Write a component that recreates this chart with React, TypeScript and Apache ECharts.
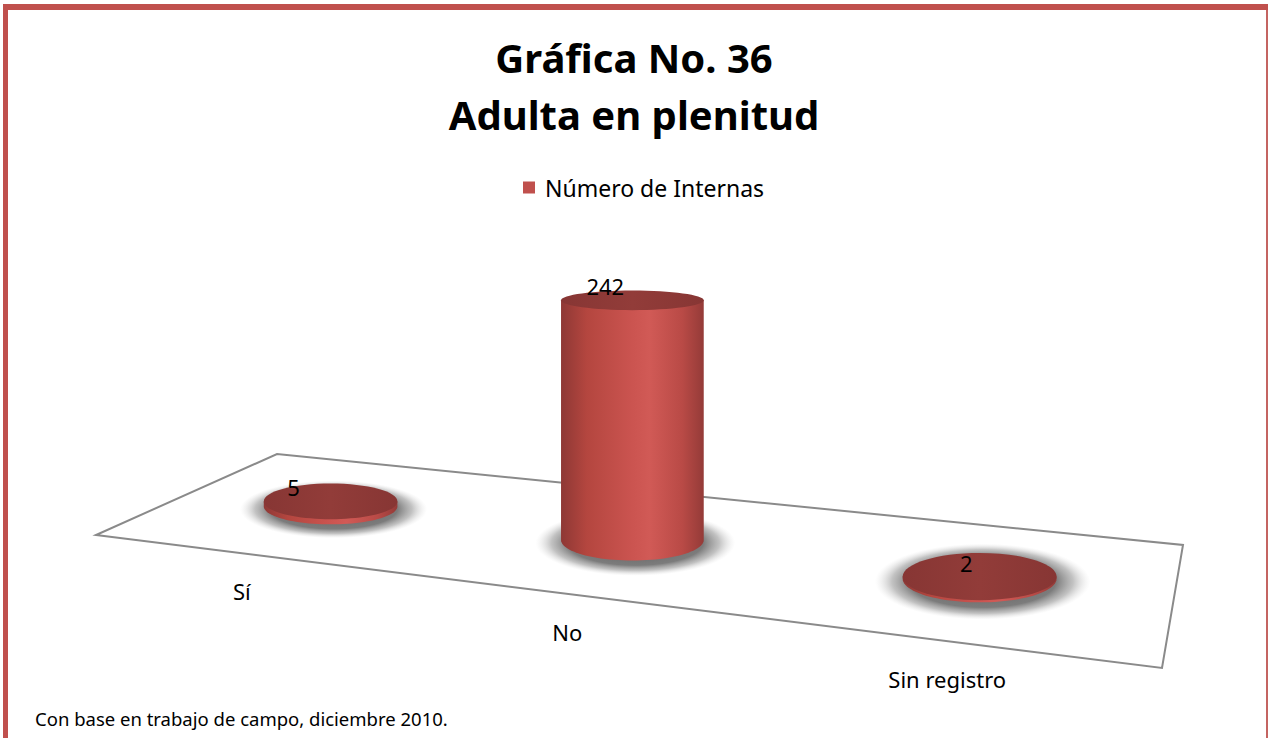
import React, { useEffect, useRef } from "react";
import * as echarts from "echarts";

const categories = ["Sí", "No", "Sin registro"];
const values = [5, 242, 2];
const seriesName = "Número de Internas";
const titleLines = ["Gráfica No. 36", "Adulta en plenitud"];
const sourceNote = "Con base en trabajo de campo, diciembre 2010.";

const RED = "#C0504D";
const FONT = "'Noto Sans', 'Open Sans', sans-serif";

// floor quadrilateral (front-left, front-right, back-right, back-left)
const FL: [number, number] = [96, 535];
const FR: [number, number] = [1162, 668];
const BR: [number, number] = [1183, 545];
const BL: [number, number] = [277, 454];

function makeHomography(p0: number[], p1: number[], p2: number[], p3: number[]) {
  const [x0, y0] = p0, [x1, y1] = p1, [x2, y2] = p2, [x3, y3] = p3;
  const dx1 = x1 - x2, dx2 = x3 - x2, dx3 = x0 - x1 + x2 - x3;
  const dy1 = y1 - y2, dy2 = y3 - y2, dy3 = y0 - y1 + y2 - y3;
  const den = dx1 * dy2 - dx2 * dy1;
  const g = (dx3 * dy2 - dx2 * dy3) / den;
  const h = (dx1 * dy3 - dx3 * dy1) / den;
  const a = x1 - x0 + g * x1, b = x3 - x0 + h * x3, c = x0;
  const d = y1 - y0 + g * y1, e = y3 - y0 + h * y3, f = y0;
  return (u: number, v: number): [number, number] => {
    const w = g * u + h * v + 1;
    return [(a * u + b * v + c) / w, (d * u + e * v + f) / w];
  };
}
const project = makeHomography(FL, FR, BR, BL);

const RU = 0.074; // cylinder radius in floor units (width)
const RV = 0.21; // cylinder radius in floor units (depth)
const HORIZON = 80;

export default function App() {
  const ref = useRef<HTMLDivElement>(null);
  useEffect(() => {
    if (!ref.current) return;
    const chart = echarts.init(ref.current, undefined, { renderer: "svg" });

    const renderItem = (params: any, api: any) => {
      const idx = api.value(0);
      const val = api.value(1);
      const cs = params.coordSys;
      const base = api.coord([idx, 0]);
      const top = api.coord([idx, val]);
      const u = (base[0] - cs.x) / cs.width;
      const hPx = base[1] - top[1];
      const v0 = 0.5;
      const [bx, by] = project(u, v0);
      const rxP = (project(u + RU, v0)[0] - project(u - RU, v0)[0]) / 2;
      const rx = 0.5 * rxP + 35.5;
      const ry = (project(u, v0 - RV)[1] - project(u, v0 + RV)[1]) / 2;
      const topY = by - hPx;
      const ryTop = (ry * (topY - HORIZON)) / (by - HORIZON);

      const side: number[][] = [[bx - rx, topY], [bx - rx, by]];
      const N = 48;
      for (let k = 0; k <= N; k++) {
        const t = Math.PI - (Math.PI * k) / N;
        side.push([bx + rx * Math.cos(t), by + ry * Math.sin(t)]);
      }
      side.push([bx + rx, topY]);

      const shadowFill = new echarts.graphic.RadialGradient(0.5, 0.5, 0.5, [
        { offset: 0, color: "rgba(60,60,60,0.85)" },
        { offset: 0.68, color: "rgba(80,80,80,0.75)" },
        { offset: 0.84, color: "rgba(120,120,120,0.45)" },
        { offset: 1, color: "rgba(200,200,200,0)" },
      ]);
      const sideFill = new echarts.graphic.LinearGradient(0, 0, 1, 0, [
        { offset: 0, color: "#8E3835" },
        { offset: 0.18, color: "#B4463F" },
        { offset: 0.5, color: "#CB5450" },
        { offset: 0.62, color: "#D15A56" },
        { offset: 0.85, color: "#B94A46" },
        { offset: 1, color: "#943B38" },
      ]);
      const topFill = new echarts.graphic.LinearGradient(0, 0, 1, 0, [
        { offset: 0, color: "#873634" },
        { offset: 0.5, color: "#923C39" },
        { offset: 1, color: "#873634" },
      ]);

      const lx = project(u, 0.28)[0];
      const front = project(u, 0);

      return {
        type: "group",
        children: [
          {
            type: "ellipse",
            shape: { cx: bx + 3, cy: by + 3, rx: rx * 1.4, ry: ry * 1.6 },
            style: { fill: shadowFill },
          },
          { type: "polygon", shape: { points: side }, style: { fill: sideFill } },
          {
            type: "ellipse",
            shape: { cx: bx, cy: topY, rx, ry: ryTop },
            style: { fill: topFill },
          },
          {
            type: "text",
            x: lx,
            y: topY - 14,
            style: {
              text: String(val),
              fontSize: 22,
              fontFamily: FONT,
              fill: "#000",
              align: "center",
              verticalAlign: "middle",
            },
          },
          {
            type: "text",
            x: front[0],
            y: front[1] + 38,
            style: {
              text: categories[idx],
              fontSize: 22,
              fontFamily: FONT,
              fill: "#000",
              align: "center",
              verticalAlign: "middle",
            },
          },
        ],
      };
    };

    chart.setOption({
      animation: false,
      backgroundColor: "#fff",
      title: {
        text: titleLines.join("\n"),
        left: "center",
        top: 24,
        textStyle: {
          fontSize: 40,
          fontWeight: "bold",
          fontFamily: FONT,
          color: "#000",
          lineHeight: 57,
        },
      },
      legend: {
        data: [seriesName],
        top: 176,
        left: 523,
        padding: 0,
        icon: "rect",
        itemWidth: 12,
        itemHeight: 12,
        textStyle: { fontSize: 23, fontFamily: FONT, color: "#000", padding: [0, 0, 0, 5] },
      },
      grid: { left: 100, width: 900, top: 200, height: 247.5 },
      xAxis: { type: "category", data: categories, show: false },
      yAxis: { type: "value", min: 0, max: 250, show: false },
      graphic: [
        { type: "rect", shape: { x: 3, y: 4, width: 1265, height: 6 }, style: { fill: RED }, z: 0 },
        { type: "rect", shape: { x: 3, y: 4, width: 5, height: 734 }, style: { fill: RED }, z: 0 },
        { type: "rect", shape: { x: 1266, y: 10, width: 2, height: 728 }, style: { fill: "#C46461" }, z: 0 },
        {
          type: "polygon",
          shape: { points: [FL, FR, BR, BL] },
          style: { fill: "none", stroke: "#8A8A8A", lineWidth: 2 },
          z: 0,
        },
        {
          type: "text",
          x: 35,
          y: 718,
          style: {
            text: sourceNote,
            fontSize: 18.5,
            fontFamily: FONT,
            fill: "#000",
            verticalAlign: "middle",
          },
          z: 0,
        },
      ],
      series: [
        {
          name: seriesName,
          type: "custom",
          coordinateSystem: "cartesian2d",
          itemStyle: { color: RED },
          renderItem,
          data: values.map((v, i) => [i, v]),
          z: 5,
        },
      ],
    });
    return () => chart.dispose();
  }, []);
  return (
    <div
      ref={ref}
      style={{ position: "absolute", left: 0, top: 0, width: 1268, height: 738 }}
    />
  );
}
